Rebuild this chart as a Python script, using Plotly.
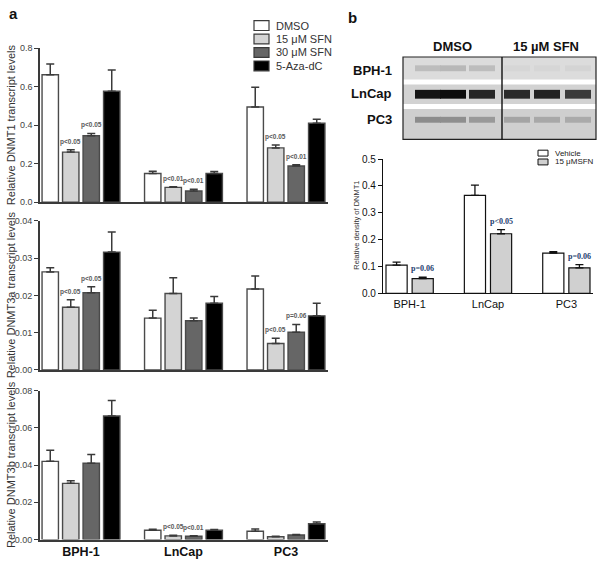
import plotly.graph_objects as go

# ---------------- data ----------------
cells = ["BPH-1", "LnCap", "PC3"]
treatments = ["DMSO", "15 μM SFN", "30 μM SFN", "5-Aza-dC"]

dnmt1_mean = {
    "DMSO": [0.662, 0.149, 0.494],
    "15 μM SFN": [0.260, 0.077, 0.282],
    "30 μM SFN": [0.345, 0.058, 0.188],
    "5-Aza-dC": [0.576, 0.149, 0.410],
}
dnmt1_sem = {
    "DMSO": [0.056, 0.012, 0.103],
    "15 μM SFN": [0.012, 0.003, 0.015],
    "30 μM SFN": [0.012, 0.009, 0.007],
    "5-Aza-dC": [0.111, 0.010, 0.021],
}
dnmt3a_mean = {
    "DMSO": [0.0263, 0.0139, 0.0217],
    "15 μM SFN": [0.0168, 0.0205, 0.0071],
    "30 μM SFN": [0.0207, 0.0132, 0.0101],
    "5-Aza-dC": [0.0316, 0.0179, 0.0145],
}
dnmt3a_sem = {
    "DMSO": [0.0011, 0.0021, 0.0035],
    "15 μM SFN": [0.0020, 0.0042, 0.0014],
    "30 μM SFN": [0.0016, 0.0007, 0.0021],
    "5-Aza-dC": [0.0054, 0.0018, 0.0034],
}
dnmt3b_mean = {
    "DMSO": [0.0420, 0.0050, 0.0045],
    "15 μM SFN": [0.0302, 0.0020, 0.0015],
    "30 μM SFN": [0.0410, 0.0018, 0.0025],
    "5-Aza-dC": [0.0663, 0.0050, 0.0085],
}
dnmt3b_sem = {
    "DMSO": [0.0060, 0.0006, 0.0012],
    "15 μM SFN": [0.0014, 0.0003, 0.0003],
    "30 μM SFN": [0.0046, 0.0003, 0.0002],
    "5-Aza-dC": [0.0084, 0.0004, 0.0010],
}
# (cell index, treatment, label)
dnmt1_p = [(0, "15 μM SFN", "p<0.05"), (0, "30 μM SFN", "p<0.05"),
           (1, "15 μM SFN", "p<0.01"), (1, "30 μM SFN", "p<0.01"),
           (2, "15 μM SFN", "p<0.05"), (2, "30 μM SFN", "p<0.01")]
dnmt3a_p = [(0, "15 μM SFN", "p<0.05"), (0, "30 μM SFN", "p<0.05"),
            (2, "15 μM SFN", "p<0.05"), (2, "30 μM SFN", "p=0.06")]
dnmt3b_p = [(1, "15 μM SFN", "p<0.05"), (1, "30 μM SFN", "p<0.01")]

groups_b = ["Vehicle", "15 μMSFN"]
density_mean = {"Vehicle": [0.105, 0.365, 0.150], "15 μMSFN": [0.055, 0.222, 0.095]}
density_sem = {"Vehicle": [0.011, 0.038, 0.005], "15 μMSFN": [0.005, 0.015, 0.012]}
density_p = ["p=0.06", "p<0.05", "p=0.06"]

blot_rows = ["BPH-1", "LnCap", "PC3"]
blot_groups = ["DMSO", "15 µM SFN"]

# ---------------- styles ----------------
W, H = 600, 577
FONT = "Arial, Liberation Sans, sans-serif"
colors_a = {"DMSO": "#ffffff", "15 μM SFN": "#d4d4d4", "30 μM SFN": "#666666", "5-Aza-dC": "#000000"}
colors_b = {"Vehicle": "#ffffff", "15 μMSFN": "#d0d0d0"}
AX = "#3a3a3a"


def px(x):
    return x / W


def py(y):
    return 1 - y / H


def esc(s):
    return s.replace("<", "&lt;")


def ann(**kw):
    d = dict(showarrow=False, xanchor="center", yanchor="middle")
    d.update(kw)
    return d


fig = go.Figure()

panels = [
    ("", dnmt1_mean, dnmt1_sem, dnmt1_p, (44, 201), [0, 0.8], 0.2, ".1f", "Relative DNMT1 transcript levels"),
    ("2", dnmt3a_mean, dnmt3a_sem, dnmt3a_p, (220, 372), [0, 0.04], 0.01, ".2f", "Relative DNMT3a transcript levels"),
    ("3", dnmt3b_mean, dnmt3b_sem, dnmt3b_p, (393, 545), [0, 0.08], 0.02, ".2f", "Relative DNMT3b transcript levels"),
]

step_a, width_a = 0.2, 0.16
xr_a = [-0.40, 2.41]
annotations = []
shapes = []

for k, (sfx, mean, sem, plist, (ytop, ybot), yr, dt, fmt, title) in enumerate(panels):
    xa, ya = "x" + sfx, "y" + sfx
    for i, t in enumerate(treatments):
        off = (i - 1.5) * step_a - width_a / 2
        fig.add_trace(go.Bar(
            x=list(range(len(cells))), y=mean[t], name=t,
            xaxis=xa, yaxis=ya, width=width_a, offset=off,
            marker=dict(color=colors_a[t], line=dict(color="#4a4a4a", width=1.4)),
            error_y=dict(type="data", symmetric=False, array=sem[t],
                         arrayminus=[0] * len(cells), color="#3a3a3a",
                         thickness=1.5, width=4),
            showlegend=False,
        ))
    for (ci, t, lab) in plist:
        i = treatments.index(t)
        annotations.append(ann(
            x=ci + (i - 1.5) * step_a, y=mean[t][ci] + sem[t][ci],
            xref=xa, yref=ya, text="<b>" + esc(lab) + "</b>",
            yanchor="bottom", yshift=2, font=dict(size=6.5, color="#5a5a5a", family=FONT)))
    lay_x = "xaxis" + sfx
    lay_y = "yaxis" + sfx
    fig.layout[lay_x] = dict(
        domain=[px(40), px(328)], range=xr_a, anchor=ya,
        showline=True, linecolor=AX, linewidth=1.6, ticks="",
        tickvals=list(range(len(cells))),
        ticktext=["<b>" + c + "</b>" for c in cells] if k == 2 else ["", "", ""],
        tickfont=dict(size=12.5, color="#111111", family=FONT),
        showgrid=False, zeroline=False, fixedrange=True)
    fig.layout[lay_y] = dict(
        domain=[py(ybot), py(ytop)], range=yr, anchor=xa,
        showline=True, linecolor=AX, linewidth=1.6, ticks="outside", ticklen=4,
        tickcolor=AX, tickwidth=1.2, dtick=dt, tick0=0, tickformat=fmt,
        tickfont=dict(size=9, color="#444444", family=FONT),
        showgrid=False, zeroline=False, fixedrange=True)
    annotations.append(ann(
        x=px(11), y=py((ytop + ybot) / 2), xref="paper", yref="paper",
        text=title, textangle=-90,
        font=dict(size=11, color="#333333", family=FONT)))

# legend panel a
for i, t in enumerate(treatments):
    yc = 21 + i * 13.7
    shapes.append(dict(type="rect", xref="paper", yref="paper",
                       x0=px(254), x1=px(269), y0=py(yc + 5), y1=py(yc - 5),
                       fillcolor=colors_a[t], line=dict(color="#3a3a3a", width=1.2)))
    annotations.append(ann(x=px(274), y=py(yc), xref="paper", yref="paper",
                           text=t, xanchor="left",
                           font=dict(size=11, color="#333333", family=FONT)))

# ---------------- panel b bar chart ----------------
step_b, width_b = 1 / 3, 0.27
for i, g in enumerate(groups_b):
    off = (i - 0.5) * step_b - width_b / 2
    fig.add_trace(go.Bar(
        x=list(range(len(cells))), y=density_mean[g], name=g,
        xaxis="x4", yaxis="y4", width=width_b, offset=off,
        marker=dict(color=colors_b[g], line=dict(color="#111111", width=1.2)),
        error_y=dict(type="data", symmetric=False, array=density_sem[g],
                     arrayminus=[0] * len(cells), color="#111111",
                     thickness=1.3, width=4),
        showlegend=False,
    ))
for ci, lab in enumerate(density_p):
    g = groups_b[1]
    annotations.append(ann(
        x=ci + 0.5 * step_b, y=density_mean[g][ci] + density_sem[g][ci],
        xref="x4", yref="y4", text="<b>" + esc(lab) + "</b>",
        yanchor="bottom", yshift=2,
        font=dict(size=8, color="#23406e", family="Times New Roman, Liberation Serif, serif")))

fig.layout["xaxis4"] = dict(
    domain=[px(383), px(593)], range=[-0.34, 2.34], anchor="y4",
    showline=True, linecolor="#111111", linewidth=1.3, ticks="",
    tickvals=list(range(len(cells))), ticktext=cells,
    tickfont=dict(size=11, color="#111111", family=FONT),
    showgrid=False, zeroline=False, fixedrange=True)
fig.layout["yaxis4"] = dict(
    domain=[py(294), py(157)], range=[0, 0.5], anchor="x4",
    showline=True, linecolor="#111111", linewidth=1.3, ticks="outside", ticklen=4,
    tickcolor="#111111", dtick=0.1, tick0=0, tickformat=".1f",
    tickfont=dict(size=10, color="#111111", family=FONT),
    showgrid=False, zeroline=False, fixedrange=True)
annotations.append(ann(x=px(357), y=py(225), xref="paper", yref="paper",
                       text="Relative density of DNMT1", textangle=-90,
                       font=dict(size=7.5, color="#333333", family=FONT)))
# legend panel b
for i, g in enumerate(groups_b):
    yc = 151 + i * 9
    shapes.append(dict(type="rect", xref="paper", yref="paper",
                       x0=px(538), x1=px(548), y0=py(yc + 3), y1=py(yc - 3),
                       fillcolor=colors_b[g], line=dict(color="#111111", width=1)))
    annotations.append(ann(x=px(553), y=py(yc), xref="paper", yref="paper",
                           text=g, xanchor="left",
                           font=dict(size=8, color="#222222", family=FONT)))

# ---------------- western blot (drawn image) ----------------
bx0, bx1, by0, by1, bdiv = 403, 596, 53, 137, 502
row_spans = [(53, 76), (81, 101), (106, 137)]
row_bg = ["#dcdcdc", "#d2d2d2", "#cfcfcf"]
lane_x = [428, 453, 482, 517, 547, 578]
band_col = [
    ["#bdbdbd", "#b8b8b8", "#bdbdbd", "#d6d6d6", "#d6d6d6", "#d4d4d4"],
    ["#151515", "#0d0d0d", "#262626", "#2a2a2a", "#222222", "#3a3a3a"],
    ["#8c8c8c", "#8e8e8e", "#999999", "#a4a4a4", "#a8a8a8", "#aaaaaa"],
]
band_h = [6, 9, 6]
for r, (y0, y1) in enumerate(row_spans):
    shapes.append(dict(type="rect", xref="paper", yref="paper", layer="below",
                       x0=px(bx0), x1=px(bx1), y0=py(y1), y1=py(y0),
                       fillcolor=row_bg[r], line=dict(width=0)))
    yc = (y0 + y1) / 2 if r != 2 else 117
    for li, lx in enumerate(lane_x):
        shapes.append(dict(type="rect", xref="paper", yref="paper", layer="below",
                           x0=px(lx - 13), x1=px(lx + 13),
                           y0=py(yc + band_h[r] / 2), y1=py(yc - band_h[r] / 2),
                           fillcolor=band_col[r][li], line=dict(width=0)))
shapes.append(dict(type="rect", xref="paper", yref="paper",
                   x0=px(bx0), x1=px(bx1), y0=py(by1), y1=py(by0),
                   line=dict(color="#222222", width=1.2)))
shapes.append(dict(type="line", xref="paper", yref="paper",
                   x0=px(bdiv), x1=px(bdiv), y0=py(by1), y1=py(by0),
                   line=dict(color="#111111", width=1.4)))
for r, lab in enumerate(blot_rows):
    yc = [67, 90, 117][r]
    annotations.append(ann(x=px(394), y=py(yc), xref="paper", yref="paper",
                           text="<b>" + lab + "</b>", xanchor="right",
                           font=dict(size=13, color="#111111", family=FONT)))
for j, lab in enumerate(blot_groups):
    xc = [452, 546][j]
    annotations.append(ann(x=px(xc), y=py(42), xref="paper", yref="paper",
                           text="<b>" + lab + "</b>",
                           font=dict(size=13, color="#111111", family=FONT)))

# panel letters
annotations.append(ann(x=px(13), y=py(9), xref="paper", yref="paper", text="<b>a</b>",
                       font=dict(size=15, color="#111111", family=FONT)))
annotations.append(ann(x=px(352), y=py(13), xref="paper", yref="paper", text="<b>b</b>",
                       font=dict(size=15, color="#111111", family=FONT)))

fig.update_layout(
    width=W, height=H, margin=dict(l=0, r=0, t=0, b=0),
    paper_bgcolor="white", plot_bgcolor="white",
    barmode="overlay", showlegend=False,
    annotations=annotations, shapes=shapes,
    font=dict(family=FONT),
)

fig.write_html("out.html", config={"displayModeBar": False},
               post_script="document.body.style.margin='0';document.body.style.overflow='hidden';")
